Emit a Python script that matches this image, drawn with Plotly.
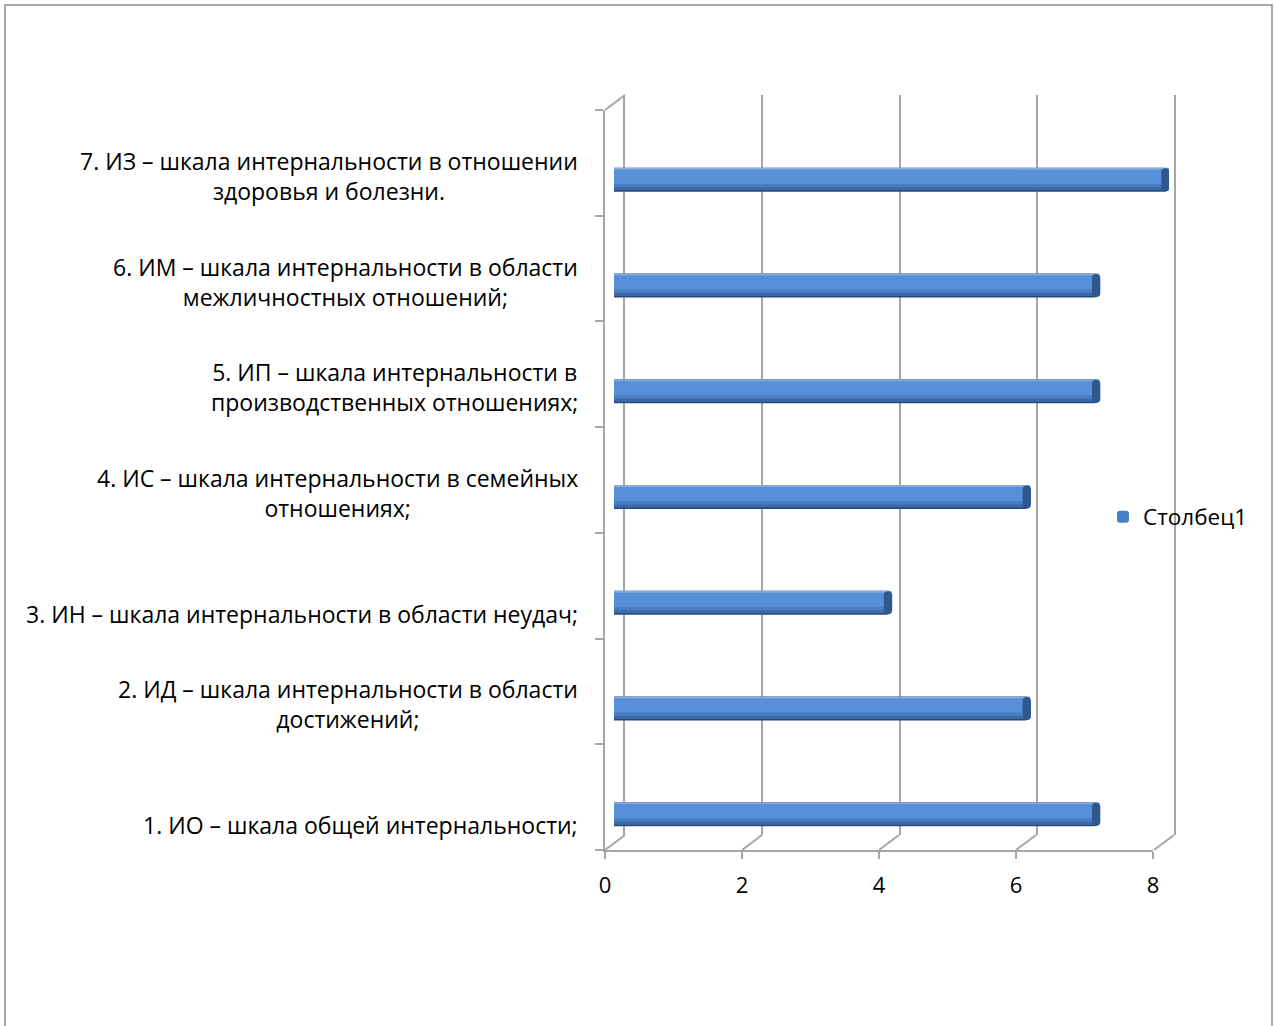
import plotly.graph_objects as go

W, H = 1275, 1026

# Scale names (bottom to top) and their scores
categories = [
    "1. ИО – шкала общей интернальности;",
    "2. ИД – шкала интернальности в области достижений;",
    "3. ИН – шкала интернальности в области неудач;",
    "4. ИС – шкала интернальности в семейных отношениях;",
    "5. ИП – шкала интернальности в производственных отношениях;",
    "6. ИМ – шкала интернальности в области межличностных отношений;",
    "7. ИЗ – шкала интернальности в отношении здоровья и болезни.",
]
label_lines = [
    "1. ИО – шкала общей интернальности;",
    "2. ИД – шкала интернальности в области<br>достижений;",
    "3. ИН – шкала интернальности в области неудач;",
    "4. ИС – шкала интернальности в семейных<br>отношениях;",
    "5. ИП – шкала интернальности в<br>производственных отношениях;",
    "6. ИМ – шкала интернальности в области<br>межличностных отношений;",
    "7. ИЗ – шкала интернальности в отношении<br>здоровья и болезни.",
]
values = [7, 6, 4, 6, 7, 7, 8]
x_ticks = [0, 2, 4, 6, 8]
series_name = "Столбец1"

GRID = "#a6a6a6"
FONT = "Open Sans"


def fx(p):
    return p / W


def fy(p):
    return 1 - p / H


CAT_PX = (867 - 127) / 7.0  # height of one category band in pixels


def band(lo, hi):
    """Width/offset of a stripe given in pixels relative to the bar centre."""
    return (hi - lo) / CAT_PX, lo / CAT_PX


fig = go.Figure()

# Cylinder shading: stacked stripes, darker at the bottom, highlight above centre
stripes = [
    (-12, 12, "#28487a", False),
    (-10.5, 11.5, "#3b69a8", False),
    (-7.5, 11, "#4a7ec3", True),
    (-4, 10, "#5690d8", False),
    (10, 12, "#88aadb", False),
]
for lo, hi, col, legend in stripes:
    w, off = band(lo, hi)
    fig.add_trace(go.Bar(
        x=values, y=categories, orientation="h",
        width=w, offset=off,
        marker=dict(color=col, cornerradius=5, line=dict(width=0)),
        name=series_name, showlegend=legend,
        xaxis="x3", yaxis="y3", hoverinfo="skip",
    ))

# Darker elliptical end face of every cylinder
w, off = band(-11.5, 11.5)
fig.add_trace(go.Bar(
    x=[0.12] * len(values), base=[v - 0.11 for v in values], y=categories,
    orientation="h", width=w, offset=off,
    marker=dict(color="#30588f", cornerradius=5, line=dict(width=0)),
    showlegend=False, xaxis="x3", yaxis="y3", hoverinfo="skip",
))

# Invisible traces so the front and back wall axes get drawn
fig.add_trace(go.Scatter(x=[0, 8], y=[categories[0], categories[-1]], mode="none",
                         showlegend=False, xaxis="x", yaxis="y", hoverinfo="skip"))
fig.add_trace(go.Scatter(x=[0, 8], y=[0, 1], mode="none",
                         showlegend=False, xaxis="x2", yaxis="y2", hoverinfo="skip"))

# Floor diagonals joining each front tick to the back wall
shapes = []
for t in x_ticks:
    if t < x_ticks[-1]:
        ref, dx = "x", (0, 20)
    else:
        ref, dx = "x2", (-20, 0)
    shapes.append(dict(type="line", xref=ref, yref="paper", xsizemode="pixel",
                       ysizemode="pixel", xanchor=t, yanchor=fy(850),
                       x0=dx[0], x1=dx[1], y0=0, y1=15,
                       line=dict(color=GRID, width=2)))
# Top edge of the side wall
shapes.append(dict(type="line", xref="x", yref="paper", xsizemode="pixel",
                   ysizemode="pixel", xanchor=0, yanchor=fy(110),
                   x0=0, x1=20, y0=0, y1=15, line=dict(color=GRID, width=2)))
# Outer chart border
shapes.append(dict(type="rect", xref="paper", yref="paper",
                   x0=fx(5), x1=fx(1272), y0=fy(1040), y1=fy(5),
                   line=dict(color="#8c8c8c", width=1.5)))

annotations = []
for cat, txt in zip(categories, label_lines):
    two = "<br>" in txt
    annotations.append(dict(
        x=fx(580), xref="paper", xanchor="right",
        y=cat, yref="y3", yanchor="middle", yshift=4 if two else -11,
        text=txt, align="center", showarrow=False,
        font=dict(family=FONT, size=23, color="#000000"),
    ))

fig.update_layout(
    width=W, height=H,
    margin=dict(l=0, r=0, t=0, b=0, pad=0, autoexpand=False),
    paper_bgcolor="white", plot_bgcolor="rgba(0,0,0,0)",
    barmode="overlay",
    font=dict(family=FONT, size=22, color="#000000"),
    shapes=shapes, annotations=annotations,
    # front edges of the floor and side wall
    xaxis=dict(domain=[fx(605), fx(1153)], range=[0, 8], tickvals=x_ticks,
               showgrid=False, zeroline=False, showline=True, linecolor=GRID,
               linewidth=2, ticks="outside", ticklen=7, tickcolor=GRID,
               tickwidth=2, tickfont=dict(size=22), ticklabelstandoff=8,
               automargin=False, anchor="y"),
    yaxis=dict(domain=[fy(850), fy(110)], type="category",
               categoryarray=categories, range=[-0.5, 6.5],
               showgrid=False, zeroline=False, showline=True, linecolor=GRID,
               linewidth=2, ticks="outside", tickson="boundaries", ticklen=8,
               tickcolor=GRID, tickwidth=2, showticklabels=False,
               automargin=False, anchor="x"),
    # back wall with vertical gridlines
    xaxis2=dict(domain=[fx(625), fx(1174)], range=[0, 8], tickvals=x_ticks,
                showgrid=True, gridcolor=GRID, gridwidth=2, zeroline=False,
                showline=False, showticklabels=False, ticks="",
                automargin=False, anchor="y2"),
    yaxis2=dict(domain=[fy(835), fy(95)], range=[0, 1], showgrid=False,
                zeroline=False, showline=True, mirror=True, linecolor=GRID,
                linewidth=2, showticklabels=False, ticks="",
                automargin=False, anchor="x2"),
    # cylinders sit halfway between the front and back planes
    xaxis3=dict(domain=[fx(614), fx(1169)], range=[0, 8], visible=False,
                automargin=False, anchor="y3"),
    yaxis3=dict(domain=[fy(867), fy(127)], type="category",
                categoryarray=categories, range=[-0.5, 6.5], visible=False,
                automargin=False, anchor="x3"),
    legend=dict(x=fx(1103), xanchor="left", y=fy(517), yanchor="middle",
                font=dict(family=FONT, size=22.5), bgcolor="rgba(0,0,0,0)"),
)

fig.write_html("out.html")
